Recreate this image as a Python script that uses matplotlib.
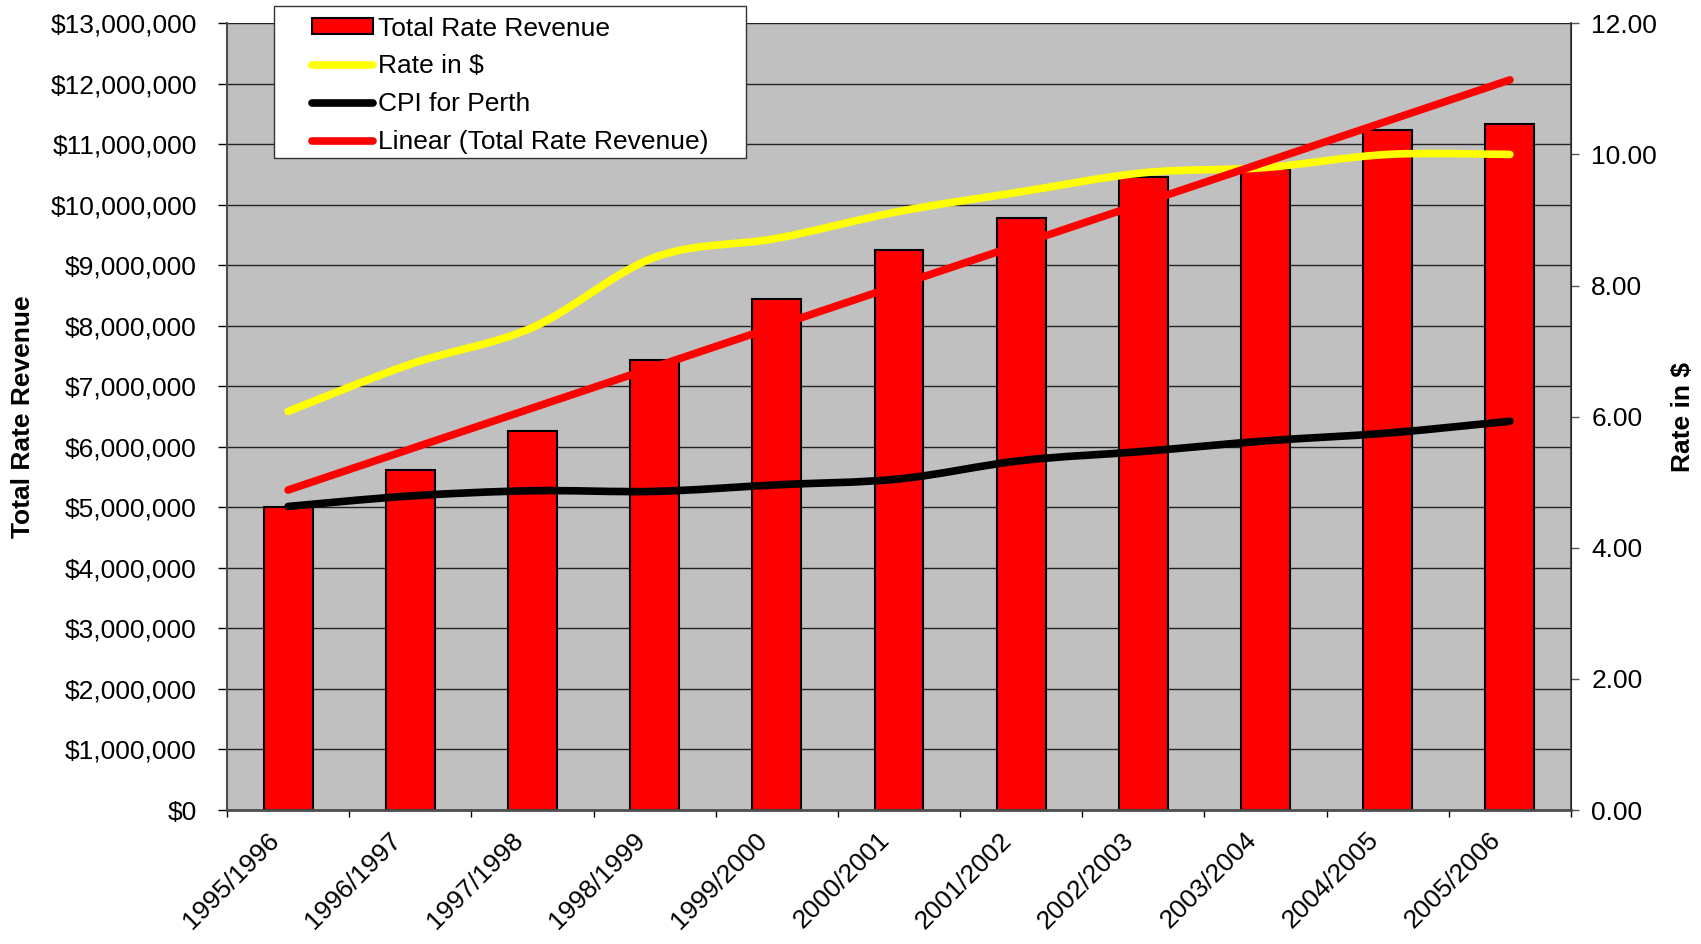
import numpy as np
import matplotlib.pyplot as plt
from matplotlib.path import Path
from matplotlib.patches import PathPatch, Rectangle
from matplotlib.lines import Line2D
from matplotlib.ticker import FuncFormatter, MultipleLocator
from matplotlib.transforms import ScaledTranslation

plt.rcParams['font.family'] = ['Liberation Sans', 'DejaVu Sans']
plt.rcParams['font.size'] = 19

# -----------------------------
# Data
# -----------------------------
years = ["1995/1996", "1996/1997", "1997/1998", "1998/1999", "1999/2000",
         "2000/2001", "2001/2002", "2002/2003", "2003/2004", "2004/2005",
         "2005/2006"]
revenue = [5000000, 5620000, 6260000, 7440000, 8450000, 9250000,
           9790000, 10460000, 10590000, 11240000, 11340000]
rate = [6.08, 6.80, 7.36, 8.43, 8.72, 9.13, 9.43, 9.72, 9.80, 10.00, 10.00]
cpi = [4.63, 4.79, 4.87, 4.86, 4.96, 5.05, 5.33, 5.47, 5.63, 5.75, 5.93]

x = np.arange(len(years))

# linear trend of the revenue bars
slope, intercept = np.polyfit(x, revenue, 1)
trend = slope * x + intercept


def smooth_path(xs, ys):
    # Catmull-Rom style bezier through every point (Excel "smoothed line")
    n = len(xs)
    verts = [(xs[0], ys[0])]
    codes = [Path.MOVETO]
    for i in range(n - 1):
        p0 = max(i - 1, 0)
        p3 = min(i + 2, n - 1)
        c1 = (xs[i] + (xs[i + 1] - xs[p0]) / 6, ys[i] + (ys[i + 1] - ys[p0]) / 6)
        c2 = (xs[i + 1] - (xs[p3] - xs[i]) / 6, ys[i + 1] - (ys[p3] - ys[i]) / 6)
        verts += [c1, c2, (xs[i + 1], ys[i + 1])]
        codes += [Path.CURVE4] * 3
    return Path(verts, codes)


# -----------------------------
# Figure / axes
# -----------------------------
W, H = 1701, 944
fig = plt.figure(figsize=(W / 100, H / 100), dpi=100)
ax = fig.add_axes([227 / W, 1 - 810 / H, (1571 - 227) / W, (810 - 23.3) / H])
ax2 = ax.twinx()

ax.set_facecolor('#C0C0C0')
ax.set_axisbelow(True)

bars = ax.bar(x, revenue, width=0.40, color='#FF0000', edgecolor='black',
              linewidth=1.5, zorder=2)

ax.set_xlim(-0.5, len(years) - 0.5)
ax.set_ylim(0, 13000000)
ax.yaxis.set_major_locator(MultipleLocator(1000000))
ax.yaxis.set_major_formatter(FuncFormatter(lambda v, p: "${:,.0f}".format(v)))
ax.grid(axis='y', color='#222222', linewidth=1.0)

lw = 5.5
ax2.add_patch(PathPatch(smooth_path(x, rate), fill=False, edgecolor='#FFFF00',
                        linewidth=lw, capstyle='round', joinstyle='round'))
ax2.add_patch(PathPatch(smooth_path(x, cpi), fill=False, edgecolor='black',
                        linewidth=lw, capstyle='round', joinstyle='round'))
ax2.plot(x, trend, color='#FF0000', linewidth=lw, solid_capstyle='round',
         transform=ax.transData)
ax2.set_xlim(-0.5, len(years) - 0.5)
ax2.set_ylim(0, 12)
ax2.yaxis.set_major_locator(MultipleLocator(2))
ax2.yaxis.set_major_formatter(FuncFormatter(lambda v, p: "%.2f" % v))

# -----------------------------
# Ticks and spines
# -----------------------------
ax.set_xticks(x)
ax.set_xticklabels(years)
ax.set_xticks(np.arange(-0.5, len(years)), minor=True)
ax.tick_params(axis='x', which='major', length=0, pad=19)
ax.tick_params(axis='x', which='minor', length=5, width=1, color='black')
shift = ScaledTranslation(-0.13, 0, fig.dpi_scale_trans)
for lab in ax.get_xticklabels():
    lab.set_rotation(45)
    lab.set_ha('right')
    lab.set_va('center')
    lab.set_rotation_mode('anchor')
    lab.set_transform(lab.get_transform() + shift)

ax.tick_params(axis='y', length=6.7, width=1, color='black', pad=15)
ax2.tick_params(axis='y', length=5.5, width=1, color='#555555', pad=9)

for a in (ax, ax2):
    a.spines['top'].set_visible(False)
ax.spines['left'].set_color('#4d4d4d')
ax.spines['left'].set_linewidth(1.5)
ax.spines['bottom'].set_color('#4d4d4d')
ax.spines['bottom'].set_linewidth(2)
ax2.spines['right'].set_color('#333333')
ax2.spines['right'].set_linewidth(1.2)
ax2.spines['left'].set_visible(False)
ax2.spines['bottom'].set_visible(False)

fig.text(22.7 / W, 1 - 416.7 / H, "Total Rate Revenue", rotation=90,
         ha='center', va='center', fontweight='bold', fontsize=19)
fig.text(1683 / W, 1 - 416.7 / H, "Rate in $", rotation=90,
         ha='center', va='center', fontweight='bold', fontsize=19)

# -----------------------------
# Legend
# -----------------------------
handles = [bars,
           Line2D([], [], color='#FFFF00', linewidth=lw, solid_capstyle='round'),
           Line2D([], [], color='black', linewidth=lw, solid_capstyle='round'),
           Line2D([], [], color='#FF0000', linewidth=lw, solid_capstyle='round')]
labels = ["Total Rate Revenue", "Rate in $", "CPI for Perth",
          "Linear (Total Rate Revenue)"]
leg = fig.legend(handles, labels, loc='upper left',
                 bbox_to_anchor=(312 / W, 1 - 16.5 / H), frameon=False,
                 borderpad=0, borderaxespad=0, handlelength=2.3,
                 handleheight=0.55, handletextpad=0.2, labelspacing=0.53,
                 fontsize=19)
leg.set_zorder(20)
fig.patches.append(Rectangle((274 / W, 1 - 157.7 / H), (746 - 274) / W,
                             (157.7 - 5.7) / H, transform=fig.transFigure,
                             facecolor='white', edgecolor='#333333',
                             linewidth=1.0, zorder=10))

fig.savefig("out.png", dpi=100)
